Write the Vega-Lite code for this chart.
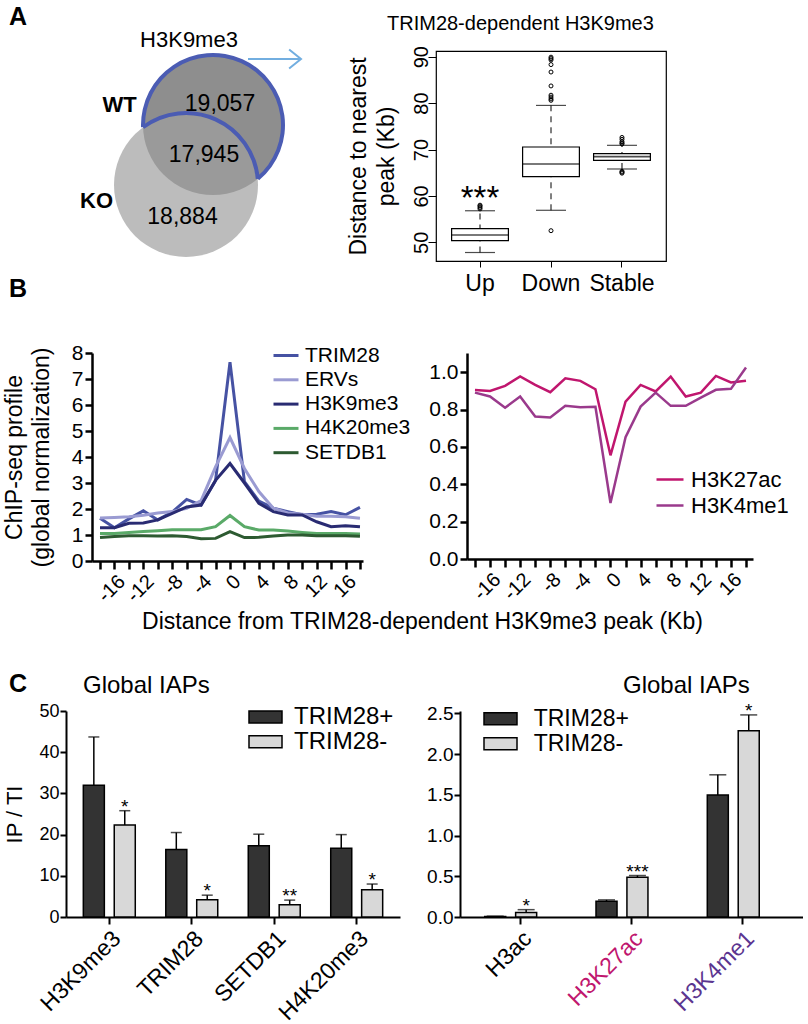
{
"$schema": "https://vega.github.io/schema/vega-lite/v6.json",
"background": "white",
"padding": 0,
"columns": 4,
"spacing": 0,
"bounds": "flush",
"align": "each",
"resolve": {"scale": {"color": "independent"}, "legend": {"color": "independent"}},
"config": {
  "font": "Liberation Sans",
  "view": {"stroke": null},
  "axis": {"labelColor": "black", "titleColor": "black", "tickColor": "black", "domainColor": "black", "labelFont": "Liberation Sans", "titleFont": "Liberation Sans", "titleFontWeight": "normal", "grid": false, "labelOverlap": false, "labelFlush": false},
  "legend": {"labelFont": "Liberation Sans", "labelColor": "black", "labelLimit": 400},
  "title": {"font": "Liberation Sans", "color": "black", "fontWeight": "normal"}
},
"concat": [
  {"width": 36, "height": 34, "data": {"values": [{}]}, "mark": {"type": "text", "text": "A", "fontSize": 25, "fontWeight": "bold", "color": "black", "align": "center", "baseline": "middle"}},
  {"width": 1, "height": 1, "data": {"values": []}, "mark": "point"},
  {"width": 1, "height": 1, "data": {"values": []}, "mark": "point"},
  {"width": 1, "height": 51, "data": {"values": []}, "mark": "point"},

  {"width": 66, "height": 1, "data": {"values": []}, "mark": "point"},
  {"width": 334, "height": 210,
   "layer": [
     {"data": {"values": [{"set": "WT", "cx": 213, "cy": 125}]},
      "mark": {"type": "point", "shape": "circle", "filled": true, "size": 19600, "color": "#8e8e8e", "opacity": 1, "strokeWidth": 0},
      "encoding": {"x": {"field": "cx", "type": "quantitative", "scale": {"domain": [66, 400], "nice": false, "zero": false}, "axis": null},
                   "y": {"field": "cy", "type": "quantitative", "scale": {"domain": [51, 261], "nice": false, "zero": false, "reverse": true}, "axis": null}}},
     {"data": {"values": [{"set": "KO", "cx": 186, "cy": 185}]},
      "mark": {"type": "point", "shape": "circle", "filled": true, "size": 20736, "color": "#a0a0a0", "opacity": 0.7, "strokeWidth": 0},
      "encoding": {"x": {"field": "cx", "type": "quantitative"}, "y": {"field": "cy", "type": "quantitative"}}},
     {"data": {"values": [{"set": "WT", "cx": 213, "cy": 125, "t0": -1.602, "t1": 2.447}]},
      "mark": {"type": "arc", "innerRadius": 68, "outerRadius": 72, "color": "#4b5cb3"},
      "encoding": {"x": {"field": "cx", "type": "quantitative"}, "y": {"field": "cy", "type": "quantitative"},
                   "theta": {"field": "t0", "type": "quantitative", "scale": null, "stack": null}, "theta2": {"field": "t1"}}},
     {"data": {"values": [{"set": "KO", "cx": 186, "cy": 185, "t0": -0.64, "t1": 1.485}]},
      "mark": {"type": "arc", "innerRadius": 70, "outerRadius": 74, "color": "#4b5cb3"},
      "encoding": {"x": {"field": "cx", "type": "quantitative"}, "y": {"field": "cy", "type": "quantitative"},
                   "theta": {"field": "t0", "type": "quantitative", "scale": null, "stack": null}, "theta2": {"field": "t1"}}},
     {"data": {"values": [{"x1": 248, "x2": 300, "y": 59}]},
      "mark": {"type": "rule", "color": "#72aee0", "strokeWidth": 2},
      "encoding": {"x": {"field": "x1", "type": "quantitative"}, "x2": {"field": "x2"}, "y": {"field": "y", "type": "quantitative"}}},
     {"data": {"values": [{"x": 301, "y": 59}]},
      "mark": {"type": "point", "shape": "M-1.25,-1L0,0L-1.25,1", "size": 361, "filled": false, "color": "#72aee0", "strokeWidth": 2, "opacity": 1},
      "encoding": {"x": {"field": "x", "type": "quantitative"}, "y": {"field": "y", "type": "quantitative"}}},
     {"data": {"values": [{"cx": 220, "cy": 103.5, "t": "19,057"}, {"cx": 204, "cy": 155, "t": "17,945"}, {"cx": 182.5, "cy": 216.5, "t": "18,884"}]},
      "mark": {"type": "text", "fontSize": 23, "color": "black", "align": "center", "baseline": "middle"},
      "encoding": {"x": {"field": "cx", "type": "quantitative"}, "y": {"field": "cy", "type": "quantitative"}, "text": {"field": "t"}}},
     {"data": {"values": [{"cx": 119.5, "cy": 104.5, "t": "WT"}, {"cx": 96.5, "cy": 200.5, "t": "KO"}]},
      "mark": {"type": "text", "fontSize": 22, "fontWeight": "bold", "color": "black", "align": "center", "baseline": "middle"},
      "encoding": {"x": {"field": "cx", "type": "quantitative"}, "y": {"field": "cy", "type": "quantitative"}, "text": {"field": "t"}}},
     {"data": {"values": [{"cx": 189, "cy": 39.5, "t": "H3K9me3"}]},
      "mark": {"type": "text", "fontSize": 22, "color": "black", "align": "center", "baseline": "middle"},
      "encoding": {"x": {"field": "cx", "type": "quantitative"}, "y": {"field": "cy", "type": "quantitative"}, "text": {"field": "t"}}}
   ]},
  {"width": 36, "height": 1, "data": {"values": []}, "mark": "point"},
  {"width": 230, "height": 210,
   "view": {"stroke": "black", "strokeWidth": 1.2},
   "title": {"text": "TRIM28-dependent H3K9me3", "fontSize": 20, "fontWeight": "normal", "color": "black", "anchor": "start", "frame": "group", "dx": -49, "offset": -4, "baseline": "alphabetic"},
   "data": {"values": [
     {"grp": "Up", "lo": 47.8, "q1": 50.36, "med": 51.58, "q3": 52.94, "hi": 56.8, "sig": "***"},
     {"grp": "Down", "lo": 56.9, "q1": 64.15, "med": 66.88, "q3": 70.54, "hi": 79.5, "sig": ""},
     {"grp": "Stable", "lo": 65.8, "q1": 67.67, "med": 68.46, "q3": 69.1, "hi": 70.9, "sig": ""}
   ]},
   "encoding": {"x": {"field": "grp", "type": "nominal", "sort": ["Up", "Down", "Stable"], "scale": {"domain": ["Up", "Down", "Stable"], "paddingInner": 0, "paddingOuter": 0.12},
                      "axis": {"title": null, "labelAngle": 0, "labelFontSize": 23, "tickSize": 6, "tickWidth": 1, "domain": false, "labelPadding": 5}}},
   "layer": [
     {"mark": {"type": "rule", "color": "black", "strokeWidth": 1, "strokeDash": [6, 5]},
      "encoding": {"y": {"field": "lo", "type": "quantitative", "scale": {"domain": [45.97, 91.23], "nice": false, "zero": false},
                         "axis": {"title": ["Distance to nearest", "peak (Kb)"], "titleFontSize": 23, "titleLineHeight": 28, "titlePadding": 13, "values": [50, 60, 70, 80, 90], "labelAngle": -90, "labelAlign": "center", "labelBaseline": "alphabetic", "labelFontSize": 20, "labelPadding": 1, "tickSize": 8, "tickWidth": 1, "domain": false}},
                   "y2": {"field": "hi"}}},
     {"mark": {"type": "bar", "fill": "white", "stroke": "black", "strokeWidth": 1.2, "width": {"band": 0.8}},
      "encoding": {"y": {"field": "q1", "type": "quantitative"}, "y2": {"field": "q3"}}},
     {"mark": {"type": "tick", "color": "black", "size": 57, "thickness": 1.6},
      "encoding": {"y": {"field": "med", "type": "quantitative"}}},
     {"mark": {"type": "tick", "color": "black", "size": 30, "thickness": 1.2},
      "encoding": {"y": {"field": "lo", "type": "quantitative"}}},
     {"mark": {"type": "tick", "color": "black", "size": 30, "thickness": 1.2},
      "encoding": {"y": {"field": "hi", "type": "quantitative"}}},
     {"data": {"values": [
        {"grp": "Up", "v": 57.2}, {"grp": "Up", "v": 57.5}, {"grp": "Up", "v": 57.8}, {"grp": "Up", "v": 58.0},
        {"grp": "Down", "v": 52.5}, {"grp": "Down", "v": 80.6}, {"grp": "Down", "v": 80.9}, {"grp": "Down", "v": 81.3}, {"grp": "Down", "v": 81.7},
        {"grp": "Down", "v": 83.7}, {"grp": "Down", "v": 86.7}, {"grp": "Down", "v": 88.3}, {"grp": "Down", "v": 89.3}, {"grp": "Down", "v": 89.6}, {"grp": "Down", "v": 89.9},
        {"grp": "Stable", "v": 64.9}, {"grp": "Stable", "v": 65.1}, {"grp": "Stable", "v": 65.3},
        {"grp": "Stable", "v": 71.2}, {"grp": "Stable", "v": 71.4}, {"grp": "Stable", "v": 71.7}, {"grp": "Stable", "v": 72.2}, {"grp": "Stable", "v": 72.6}
      ]},
      "mark": {"type": "point", "shape": "circle", "filled": false, "size": 16, "color": "black", "strokeWidth": 1, "opacity": 1},
      "encoding": {"y": {"field": "v", "type": "quantitative"}}},
     {"mark": {"type": "text", "fontSize": 33, "color": "black", "baseline": "alphabetic", "align": "center", "dy": -2},
      "encoding": {"y": {"field": "hi", "type": "quantitative"}, "text": {"field": "sig"}}}
   ]},

  {"width": 36, "height": 56, "data": {"values": [{}]}, "mark": {"type": "text", "text": "B", "fontSize": 25, "fontWeight": "bold", "color": "black", "align": "center", "baseline": "middle"}},
  {"width": 1, "height": 1, "data": {"values": []}, "mark": "point"},
  {"width": 1, "height": 1, "data": {"values": []}, "mark": "point"},
  {"width": 1, "height": 92, "data": {"values": []}, "mark": "point"},

  {"width": 1, "height": 1, "data": {"values": []}, "mark": "point"},
  {"width": 297, "height": 208,
   "data": {"values": [
     {"kb": -18, "TRIM28": 1.64, "ERVs": 1.65, "H3K9me3": 1.28, "H4K20me3": 1.06, "SETDB1": 0.90},
     {"kb": -16, "TRIM28": 1.28, "ERVs": 1.67, "H3K9me3": 1.28, "H4K20me3": 1.06, "SETDB1": 0.94},
     {"kb": -14, "TRIM28": 1.62, "ERVs": 1.70, "H3K9me3": 1.45, "H4K20me3": 1.10, "SETDB1": 0.97},
     {"kb": -12, "TRIM28": 1.93, "ERVs": 1.76, "H3K9me3": 1.46, "H4K20me3": 1.13, "SETDB1": 0.97},
     {"kb": -10, "TRIM28": 1.58, "ERVs": 1.85, "H3K9me3": 1.58, "H4K20me3": 1.16, "SETDB1": 0.96},
     {"kb": -8, "TRIM28": 1.88, "ERVs": 1.90, "H3K9me3": 1.83, "H4K20me3": 1.20, "SETDB1": 0.97},
     {"kb": -6, "TRIM28": 2.37, "ERVs": 2.03, "H3K9me3": 2.08, "H4K20me3": 1.20, "SETDB1": 0.94},
     {"kb": -4, "TRIM28": 2.15, "ERVs": 2.32, "H3K9me3": 2.15, "H4K20me3": 1.20, "SETDB1": 0.86},
     {"kb": -2, "TRIM28": 3.10, "ERVs": 3.62, "H3K9me3": 3.10, "H4K20me3": 1.32, "SETDB1": 0.87},
     {"kb": 0, "TRIM28": 7.65, "ERVs": 4.75, "H3K9me3": 3.75, "H4K20me3": 1.75, "SETDB1": 1.13},
     {"kb": 2, "TRIM28": 3.05, "ERVs": 3.56, "H3K9me3": 3.00, "H4K20me3": 1.32, "SETDB1": 0.90},
     {"kb": 4, "TRIM28": 2.30, "ERVs": 2.67, "H3K9me3": 2.22, "H4K20me3": 1.19, "SETDB1": 0.91},
     {"kb": 6, "TRIM28": 2.03, "ERVs": 2.03, "H3K9me3": 1.90, "H4K20me3": 1.19, "SETDB1": 0.96},
     {"kb": 8, "TRIM28": 1.90, "ERVs": 1.85, "H3K9me3": 1.77, "H4K20me3": 1.15, "SETDB1": 1.00},
     {"kb": 10, "TRIM28": 1.78, "ERVs": 1.80, "H3K9me3": 1.77, "H4K20me3": 1.10, "SETDB1": 1.00},
     {"kb": 12, "TRIM28": 1.80, "ERVs": 1.72, "H3K9me3": 1.51, "H4K20me3": 1.06, "SETDB1": 0.97},
     {"kb": 14, "TRIM28": 1.90, "ERVs": 1.72, "H3K9me3": 1.32, "H4K20me3": 1.06, "SETDB1": 0.97},
     {"kb": 16, "TRIM28": 1.78, "ERVs": 1.70, "H3K9me3": 1.36, "H4K20me3": 1.06, "SETDB1": 0.97},
     {"kb": 18, "TRIM28": 2.06, "ERVs": 1.64, "H3K9me3": 1.32, "H4K20me3": 1.04, "SETDB1": 0.95}
   ]},
   "transform": [{"fold": ["TRIM28", "ERVs", "H3K9me3", "H4K20me3", "SETDB1"], "as": ["s", "v"]}],
   "mark": {"type": "line", "strokeWidth": 3},
   "encoding": {
     "x": {"field": "kb", "type": "quantitative", "scale": {"domain": [-19.11, 18.42], "range": [26, 297], "nice": false, "zero": false},
           "axis": {"values": [-18, -16, -14, -12, -10, -8, -6, -4, -2, 0, 2, 4, 6, 8, 10, 12, 14, 16, 18], "labelExpr": "datum.value % 4 == 0 ? toString(datum.value) : ''",
                    "labelAngle": -45, "labelFontSize": 20, "labelPadding": 2, "tickSize": 8, "tickWidth": 2.5, "domainWidth": 2.5,
                    "title": "Distance from TRIM28-dependent H3K9me3 peak (Kb)", "titleFontSize": 23, "titleX": 356, "titleY": 67, "titleBaseline": "alphabetic", "titleAlign": "center"}},
     "y": {"field": "v", "type": "quantitative", "scale": {"domain": [0, 8], "nice": false},
           "axis": {"offset": -26, "values": [0, 1, 2, 3, 4, 5, 6, 7, 8], "labelFontSize": 21, "labelPadding": 2, "tickSize": 7, "tickWidth": 2.5, "domainWidth": 2.5,
                    "title": ["ChIP-seq profile", "(global normalization)"], "titleFontSize": 23, "titleLineHeight": 27, "titlePadding": 18}},
     "color": {"field": "s", "type": "nominal",
               "scale": {"domain": ["TRIM28", "ERVs", "H3K9me3", "H4K20me3", "SETDB1"], "range": ["#4652a3", "#9a9bd2", "#292b72", "#5aaa68", "#2d5a31"]},
               "legend": {"title": null, "orient": "none", "legendX": 206, "legendY": -11.5, "symbolType": "stroke", "symbolSize": 625, "symbolStrokeWidth": 3, "labelFontSize": 21, "labelOffset": 5, "rowPadding": 0.3, "padding": 0}}
   }},
  {"width": 1, "height": 1, "data": {"values": []}, "mark": "point"},
  {"width": 317, "height": 206,
   "data": {"values": [
     {"kb": -18, "H3K27ac": 0.905, "H3K4me1": 0.891},
     {"kb": -16, "H3K27ac": 0.900, "H3K4me1": 0.870},
     {"kb": -14, "H3K27ac": 0.927, "H3K4me1": 0.810},
     {"kb": -12, "H3K27ac": 0.977, "H3K4me1": 0.870},
     {"kb": -10, "H3K27ac": 0.932, "H3K4me1": 0.763},
     {"kb": -8, "H3K27ac": 0.893, "H3K4me1": 0.758},
     {"kb": -6, "H3K27ac": 0.968, "H3K4me1": 0.820},
     {"kb": -4, "H3K27ac": 0.954, "H3K4me1": 0.813},
     {"kb": -2, "H3K27ac": 0.909, "H3K4me1": 0.815},
     {"kb": 0, "H3K27ac": 0.555, "H3K4me1": 0.300},
     {"kb": 2, "H3K27ac": 0.843, "H3K4me1": 0.652},
     {"kb": 4, "H3K27ac": 0.932, "H3K4me1": 0.816},
     {"kb": 6, "H3K27ac": 0.897, "H3K4me1": 0.891},
     {"kb": 8, "H3K27ac": 0.977, "H3K4me1": 0.820},
     {"kb": 10, "H3K27ac": 0.870, "H3K4me1": 0.820},
     {"kb": 12, "H3K27ac": 0.891, "H3K4me1": 0.864},
     {"kb": 14, "H3K27ac": 0.980, "H3K4me1": 0.906},
     {"kb": 16, "H3K27ac": 0.945, "H3K4me1": 0.911},
     {"kb": 18, "H3K27ac": 0.955, "H3K4me1": 1.025}
   ]},
   "transform": [{"fold": ["H3K27ac", "H3K4me1"], "as": ["s", "v"]}],
   "mark": {"type": "line", "strokeWidth": 2.5},
   "encoding": {
     "x": {"field": "kb", "type": "quantitative", "scale": {"domain": [-19.06, 18.93], "range": [31, 317], "nice": false, "zero": false},
           "axis": {"values": [-18, -16, -14, -12, -10, -8, -6, -4, -2, 0, 2, 4, 6, 8, 10, 12, 14, 16, 18], "labelExpr": "datum.value % 4 == 0 ? toString(datum.value) : ''",
                    "labelAngle": -45, "labelFontSize": 20, "labelPadding": 2, "tickSize": 8, "tickWidth": 2.5, "domainWidth": 2.5, "title": null}},
     "y": {"field": "v", "type": "quantitative", "scale": {"domain": [0, 1.103], "nice": false},
           "axis": {"offset": -31, "values": [0, 0.2, 0.4, 0.6, 0.8, 1.0], "format": ".1f", "labelFontSize": 21, "labelPadding": 2, "tickSize": 7, "tickWidth": 2.5, "domainWidth": 2.5, "title": null}},
     "color": {"field": "s", "type": "nominal",
               "scale": {"domain": ["H3K27ac", "H3K4me1"], "range": ["#c0166e", "#9a3a8c"]},
               "legend": {"title": null, "orient": "none", "legendX": 219, "legendY": 111.5, "symbolType": "stroke", "symbolSize": 729, "symbolStrokeWidth": 2.5, "labelFontSize": 22, "labelOffset": 6, "rowPadding": -2, "padding": 0}}
   }},

  {"width": 1, "height": 106, "data": {"values": []}, "mark": "point"},
  {"width": 1, "height": 1, "data": {"values": []}, "mark": "point"},
  {"width": 1, "height": 1, "data": {"values": []}, "mark": "point"},
  {"width": 1, "height": 1, "data": {"values": []}, "mark": "point"},

  {"width": 36, "height": 34, "data": {"values": [{}]}, "mark": {"type": "text", "text": "C", "fontSize": 25, "fontWeight": "bold", "color": "black", "align": "center", "baseline": "middle"}},
  {"width": 1, "height": 1, "data": {"values": []}, "mark": "point"},
  {"width": 1, "height": 1, "data": {"values": []}, "mark": "point"},
  {"width": 1, "height": 44, "data": {"values": []}, "mark": "point"},

  {"width": 1, "height": 1, "data": {"values": []}, "mark": "point"},
  {"width": 334, "height": 206,
   "title": {"text": "Global IAPs", "fontSize": 24, "fontWeight": "normal", "color": "black", "anchor": "start", "frame": "group", "dx": 17, "offset": -15, "baseline": "alphabetic"},
   "data": {"values": [
     {"t": "H3K9me3", "g": "TRIM28+", "v": 32.0, "e": 43.7, "sig": ""},
     {"t": "H3K9me3", "g": "TRIM28-", "v": 22.3, "e": 25.8, "sig": "*"},
     {"t": "TRIM28", "g": "TRIM28+", "v": 16.4, "e": 20.5, "sig": ""},
     {"t": "TRIM28", "g": "TRIM28-", "v": 4.2, "e": 5.3, "sig": "*"},
     {"t": "SETDB1", "g": "TRIM28+", "v": 17.3, "e": 20.1, "sig": ""},
     {"t": "SETDB1", "g": "TRIM28-", "v": 3.0, "e": 4.1, "sig": "**"},
     {"t": "H4K20me3", "g": "TRIM28+", "v": 16.7, "e": 20.0, "sig": ""},
     {"t": "H4K20me3", "g": "TRIM28-", "v": 6.6, "e": 8.0, "sig": "*"}
   ]},
   "encoding": {
     "x": {"field": "t", "type": "nominal", "sort": ["H3K9me3", "TRIM28", "SETDB1", "H4K20me3"], "scale": {"paddingInner": 0.37, "paddingOuter": 0.21},
           "axis": {"title": null, "labelAngle": -45, "labelFontSize": 23, "labelPadding": 3, "tickSize": 7, "tickWidth": 2, "domainWidth": 2}},
     "xOffset": {"field": "g", "type": "nominal", "sort": ["TRIM28+", "TRIM28-"], "scale": {"paddingInner": 0.32, "paddingOuter": 0}}
   },
   "layer": [
     {"mark": {"type": "bar", "stroke": "black", "strokeWidth": 1.5},
      "encoding": {"y": {"field": "v", "type": "quantitative", "scale": {"domain": [0, 50], "nice": false},
                         "axis": {"title": "IP / TI", "titleFontSize": 22, "titlePadding": 12, "values": [0, 10, 20, 30, 40, 50], "labelFontSize": 18, "labelPadding": 1, "tickSize": 6, "tickWidth": 2, "domainWidth": 2}},
                   "color": {"field": "g", "type": "nominal", "scale": {"domain": ["TRIM28+", "TRIM28-"], "range": ["#333333", "#d8d8d8"]},
                             "legend": {"title": null, "orient": "none", "legendX": 187.5, "legendY": -6, "symbolType": "M-1.5,-0.55H1.5V0.55H-1.5Z", "symbolSize": 484, "symbolStrokeColor": "black", "symbolStrokeWidth": 1.5, "labelFontSize": 24, "labelOffset": 16.5, "rowPadding": 0.7, "padding": 0}}}},
     {"mark": {"type": "rule", "color": "black", "strokeWidth": 1.5},
      "encoding": {"y": {"field": "v", "type": "quantitative"}, "y2": {"field": "e"}}},
     {"mark": {"type": "tick", "color": "black", "size": 11, "thickness": 1.5},
      "encoding": {"y": {"field": "e", "type": "quantitative"}}},
     {"mark": {"type": "text", "fontSize": 19, "color": "black", "baseline": "alphabetic", "align": "center", "dy": 2},
      "encoding": {"y": {"field": "e", "type": "quantitative"}, "text": {"field": "sig"}}}
   ]},
  {"width": 1, "height": 1, "data": {"values": []}, "mark": "point"},
  {"width": 367, "height": 206,
   "title": {"text": "Global IAPs", "fontSize": 24, "fontWeight": "normal", "color": "black", "anchor": "start", "frame": "group", "dx": 187, "offset": -15, "baseline": "alphabetic"},
   "data": {"values": [
     {"t": "H3ac", "g": "TRIM28+", "v": 0.006, "e": 0.01, "sig": ""},
     {"t": "H3ac", "g": "TRIM28-", "v": 0.055, "e": 0.09, "sig": "*"},
     {"t": "H3K27ac", "g": "TRIM28+", "v": 0.193, "e": 0.21, "sig": ""},
     {"t": "H3K27ac", "g": "TRIM28-", "v": 0.488, "e": 0.509, "sig": "***"},
     {"t": "H3K4me1", "g": "TRIM28+", "v": 1.496, "e": 1.745, "sig": ""},
     {"t": "H3K4me1", "g": "TRIM28-", "v": 2.286, "e": 2.48, "sig": "*"}
   ]},
   "encoding": {
     "x": {"field": "t", "type": "nominal", "sort": ["H3ac", "H3K27ac", "H3K4me1"], "scale": {"range": [24, 367], "paddingInner": 0.362, "paddingOuter": 0.222},
           "axis": {"title": null, "labelAngle": -45, "labelFontSize": 23, "labelPadding": 3, "tickSize": 7, "tickWidth": 2, "domainWidth": 2,
                    "labelColor": {"condition": [{"test": "datum.value == 'H3K27ac'", "value": "#c0166e"}, {"test": "datum.value == 'H3K4me1'", "value": "#5b3590"}], "value": "black"}}},
     "xOffset": {"field": "g", "type": "nominal", "sort": ["TRIM28+", "TRIM28-"], "scale": {"paddingInner": 0.326, "paddingOuter": 0}}
   },
   "layer": [
     {"mark": {"type": "bar", "stroke": "black", "strokeWidth": 1.5},
      "encoding": {"y": {"field": "v", "type": "quantitative", "scale": {"domain": [0, 2.528], "nice": false},
                         "axis": {"offset": -24, "title": null, "values": [0, 0.5, 1, 1.5, 2, 2.5], "format": ".1f", "labelFontSize": 19, "labelPadding": 1, "tickSize": 6, "tickWidth": 2, "domainWidth": 2}},
                   "color": {"field": "g", "type": "nominal", "scale": {"domain": ["TRIM28+", "TRIM28-"], "range": ["#333333", "#d8d8d8"]},
                             "legend": {"title": null, "orient": "none", "legendX": 52.5, "legendY": -4.2, "symbolType": "M-1.5,-0.55H1.5V0.55H-1.5Z", "symbolSize": 484, "symbolStrokeColor": "black", "symbolStrokeWidth": 1.5, "labelFontSize": 23, "labelOffset": 21.2, "rowPadding": 1, "padding": 0}}}},
     {"mark": {"type": "rule", "color": "black", "strokeWidth": 1.5},
      "encoding": {"y": {"field": "v", "type": "quantitative"}, "y2": {"field": "e"}}},
     {"mark": {"type": "tick", "color": "black", "size": 17, "thickness": 1.5},
      "encoding": {"y": {"field": "e", "type": "quantitative"}}},
     {"mark": {"type": "text", "fontSize": 19, "color": "black", "baseline": "alphabetic", "align": "center", "dy": 2},
      "encoding": {"y": {"field": "e", "type": "quantitative"}, "text": {"field": "sig"}}}
   ]}
]
}
